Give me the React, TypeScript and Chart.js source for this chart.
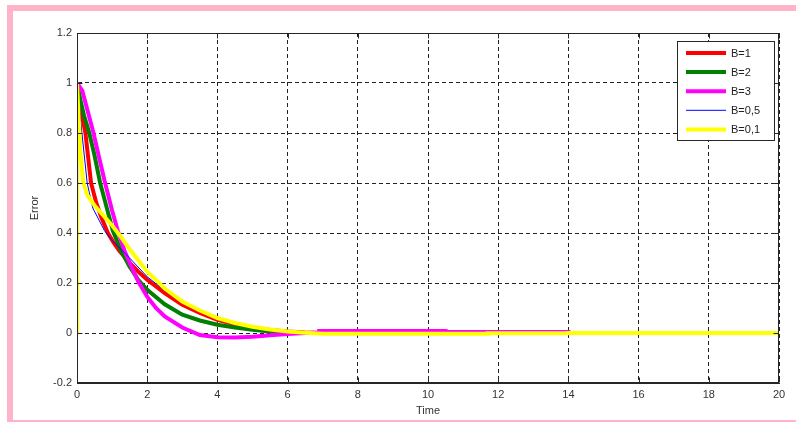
import React, { useEffect, useRef } from "react";
import { Chart, registerables } from "chart.js";

Chart.register(...registerables);

// ---- data ----
const seriesNames = ["B=1", "B=2", "B=3", "B=0,5", "B=0,1"];
const seriesColors = ["#ff0000", "#008000", "#ff00ff", "#0000ff", "#ffff00"];
const seriesWidths = [4, 4, 4, 1, 4];
const seriesOrder = [5, 4, 3, 2, 1];

const timeB1 = [0, 0.1, 0.24, 0.32, 0.4, 0.55, 0.7, 0.88, 1.05, 1.2, 1.5, 1.75, 2, 2.5, 3, 3.5, 4, 4.5, 5, 5.5, 6, 6.5, 7, 20];
const errB1 = [1, 0.9, 0.8, 0.7, 0.6, 0.52, 0.46, 0.4, 0.36, 0.33, 0.28, 0.245, 0.213, 0.16, 0.113, 0.08, 0.053, 0.035, 0.022, 0.012, 0.006, 0.002, 0, 0];

const timeB2 = [0, 0.1, 0.2, 0.35, 0.5, 0.66, 0.85, 1.02, 1.25, 1.5, 1.75, 2, 2.5, 3, 3.5, 4, 4.5, 5, 5.5, 6, 6.5, 20];
const errB2 = [1, 0.93, 0.87, 0.8, 0.71, 0.6, 0.5, 0.41, 0.33, 0.265, 0.212, 0.173, 0.115, 0.073, 0.05, 0.033, 0.022, 0.013, 0.006, 0.002, 0, 0];

const timeB3 = [0, 0.15, 0.3, 0.47, 0.6, 0.8, 1, 1.17, 1.35, 1.55, 1.75, 2, 2.25, 2.5, 3, 3.5, 4, 4.5, 5, 5.5, 6, 6.5, 6.9, 6.9, 10.5, 10.5, 14, 14, 20];
const errB3 = [1, 0.97, 0.89, 0.8, 0.72, 0.6, 0.49, 0.405, 0.33, 0.265, 0.205, 0.145, 0.1, 0.066, 0.022, -0.008, -0.017, -0.018, -0.015, -0.009, -0.004, 0, 0.002, 0.008, 0.008, 0.004, 0.004, 0, 0];

const timeB05 = [0, 0.07, 0.14, 0.29, 0.45, 0.78, 1, 1.5, 2, 2.5, 3, 3.5, 4, 4.5, 5, 5.5, 6, 6.5, 7, 20];
const errB05 = [1, 0.9, 0.8, 0.6, 0.5, 0.41, 0.37, 0.3, 0.225, 0.17, 0.12, 0.085, 0.057, 0.037, 0.023, 0.013, 0.006, 0.002, 0, 0];

const timeB01 = [0, 0, 0.05, 0.1, 0.18, 0.3, 0.5, 0.75, 1, 1.25, 1.5, 2, 2.5, 3, 3.5, 4, 4.5, 5, 5.5, 6, 6.5, 7, 11.7, 11.7, 14, 14, 20];
const errB01 = [0, 1, 0.85, 0.72, 0.6, 0.55, 0.51, 0.47, 0.43, 0.385, 0.335, 0.245, 0.178, 0.126, 0.09, 0.06, 0.04, 0.025, 0.014, 0.006, 0.001, -0.003, -0.003, -0.001, -0.001, 0, 0];

const seriesTimes = [timeB1, timeB2, timeB3, timeB05, timeB01];
const seriesErrors = [errB1, errB2, errB3, errB05, errB01];

const xTickValues = [0, 2, 4, 6, 8, 10, 12, 14, 16, 18, 20];
const xTickLabels = ["0", "2", "4", "6", "8", "10", "12", "14", "16", "18", "20"];
const yTickValues = [-0.2, 0, 0.2, 0.4, 0.6, 0.8, 1, 1.2];
const yTickLabels = ["-0.2", "0", "0.2", "0.4", "0.6", "0.8", "1", "1.2"];

const xTitle = "Time";
const yTitle = "Error";

const FONT = "'Liberation Sans', Arial, sans-serif";
const TEXT = "#333333";
const AXIS = "#262626";

function labelFor(values: number[], labels: string[], v: number): string {
  const i = values.findIndex((x) => Math.abs(x - v) < 1e-6);
  return i >= 0 ? labels[i] : "";
}

const framePlugin = {
  id: "frameAndLegend",
  afterDatasetsDraw(chart: any) {
    const { ctx, chartArea: a, scales } = chart;
    ctx.save();
    ctx.strokeStyle = AXIS;
    ctx.lineWidth = 1;
    ctx.setLineDash([]);
    const L = Math.round(a.left) + 0.5;
    const T = Math.round(a.top) + 0.5;
    const R = Math.round(a.right) - 0.5;
    const B = Math.round(a.bottom) - 0.5;
    ctx.strokeRect(L, T, R - L, B - T);
    // inward ticks
    ctx.beginPath();
    xTickValues.forEach((v) => {
      const px = Math.round(scales.x.getPixelForValue(v)) + 0.5;
      ctx.moveTo(px, B);
      ctx.lineTo(px, B - 5);
      ctx.moveTo(px, T);
      ctx.lineTo(px, T + 5);
    });
    yTickValues.forEach((v) => {
      const py = Math.round(scales.y.getPixelForValue(v)) + 0.5;
      ctx.moveTo(L, py);
      ctx.lineTo(L + 5, py);
      ctx.moveTo(R, py);
      ctx.lineTo(R - 5, py);
    });
    ctx.stroke();

    // legend box
    const boxW = 97;
    const boxH = 99;
    const bx = Math.round(a.right) - 5 - boxW;
    const by = Math.round(a.top) + 8;
    ctx.fillStyle = "#ffffff";
    ctx.fillRect(bx, by, boxW, boxH);
    ctx.strokeStyle = AXIS;
    ctx.strokeRect(bx + 0.5, by + 0.5, boxW, boxH);
    ctx.font = `11px ${FONT}`;
    ctx.textBaseline = "middle";
    ctx.textAlign = "left";
    chart.data.datasets.forEach((ds: any, i: number) => {
      const yy = by + 12 + i * 19.1;
      ctx.strokeStyle = ds.borderColor;
      ctx.lineWidth = ds.borderWidth;
      ctx.beginPath();
      ctx.moveTo(bx + 9, yy);
      ctx.lineTo(bx + 49, yy);
      ctx.stroke();
      ctx.fillStyle = "#222222";
      ctx.fillText(ds.label, bx + 54, yy + 0.5);
    });
    ctx.restore();
  },
};

export default function App() {
  const canvasRef = useRef<HTMLCanvasElement | null>(null);

  useEffect(() => {
    const canvas = canvasRef.current;
    if (!canvas) return;
    const datasets = seriesNames.map((name, i) => ({
      label: name,
      data: seriesTimes[i].map((t, j) => ({ x: t, y: seriesErrors[i][j] })),
      borderColor: seriesColors[i],
      backgroundColor: seriesColors[i],
      borderWidth: seriesWidths[i],
      pointRadius: 0,
      pointHoverRadius: 0,
      tension: 0,
      fill: false,
      order: seriesOrder[i],
    }));

    const chart = new Chart(canvas, {
      type: "line",
      data: { datasets },
      options: {
        animation: false,
        responsive: false,
        devicePixelRatio: 1,
        events: [],
        layout: { padding: { left: 0, right: 17, top: 33, bottom: 0 } },
        plugins: {
          legend: { display: false },
          tooltip: { enabled: false },
          title: { display: false },
        },
        scales: {
          x: {
            type: "linear",
            min: 0,
            max: 20,
            ticks: {
              stepSize: 2,
              padding: 5,
              color: TEXT,
              font: { family: FONT, size: 11 },
              maxRotation: 0,
              autoSkip: false,
              callback: (v: any) => labelFor(xTickValues, xTickLabels, Number(v)),
            },
            grid: { color: "#222222", lineWidth: 1, drawTicks: false },
            border: { display: true, color: AXIS, width: 1, dash: [4, 3] },
            title: {
              display: true,
              text: xTitle,
              color: TEXT,
              font: { family: FONT, size: 11 },
              padding: { top: 0, bottom: 4 },
            },
            afterFit: (scale: any) => {
              scale.height = 39;
            },
          },
          y: {
            type: "linear",
            min: -0.2,
            max: 1.2,
            ticks: {
              stepSize: 0.2,
              padding: 5,
              color: TEXT,
              font: { family: FONT, size: 11 },
              autoSkip: false,
              callback: (v: any) => labelFor(yTickValues, yTickLabels, Number(v)),
            },
            grid: { color: "#222222", lineWidth: 1, drawTicks: false },
            border: { display: true, color: AXIS, width: 1, dash: [4, 3] },
            title: {
              display: true,
              text: yTitle,
              color: TEXT,
              font: { family: FONT, size: 11 },
              padding: { top: 28, bottom: 0 },
            },
            afterFit: (scale: any) => {
              scale.width = 77;
            },
          },
        },
      },
      plugins: [framePlugin],
    });
    return () => chart.destroy();
  }, []);

  return (
    <div
      style={{
        position: "fixed",
        left: 0,
        top: 0,
        width: 796,
        height: 422,
        overflow: "hidden",
        background: "#ffffff",
      }}
    >
      <div
        style={{
          position: "absolute",
          left: 7,
          top: 5,
          width: 796,
          height: 421,
          boxSizing: "border-box",
          border: "6px solid #ffb3c9",
        }}
      />
      <canvas
        ref={canvasRef}
        width={796}
        height={422}
        style={{ position: "absolute", left: 0, top: 0, width: 796, height: 422 }}
      />
    </div>
  );
}
